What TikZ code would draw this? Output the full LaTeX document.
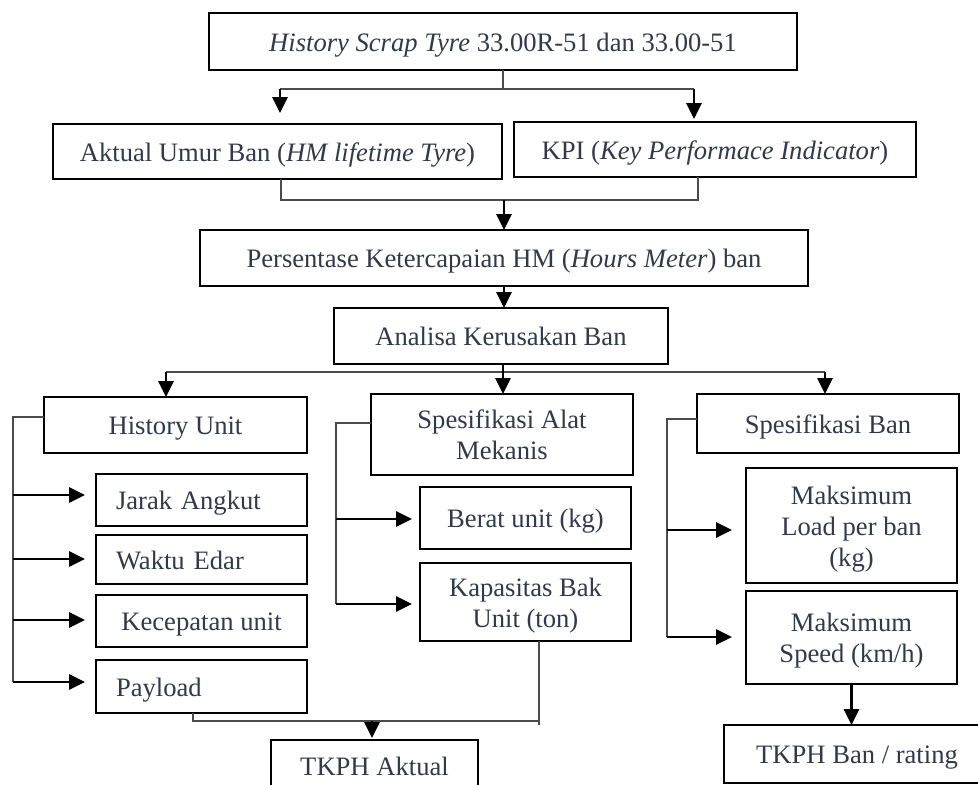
\documentclass[tikz,border=0pt]{standalone}
\usepackage{fontspec}
\setmainfont{Liberation Serif}
\usetikzlibrary{arrows.meta}
\definecolor{txt}{RGB}{48,58,76}
\definecolor{linegray}{RGB}{75,75,75}
\newcommand\diagfont{\fontsize{26.6}{31}\selectfont}
\tikzset{
  box/.style={draw=black, line width=2.5pt, inner sep=0pt, outer sep=0pt, text=txt, font=\diagfont, align=center, text height=19.6pt, text depth=0pt},
  twoline/.style={text height=50.6pt},
  threeline/.style={text height=81.6pt},
  lbox/.style={box, minimum width=211pt, inner xsep=20pt, text width=171pt, align=left},
  conn/.style={draw=linegray, line width=1.5pt},
  arr/.style={draw=black, line width=2.8pt, -{Triangle[length=16pt,width=15pt]}},
}
\begin{document}
\begin{tikzpicture}[x=1pt,y=-1pt]
\clip (0,0) rectangle (978,785);
\fill[white] (0,0) rectangle (978,785);

% boxes
\node[box, minimum width=588, minimum height=57] (top) at (503,41.5) {\textit{History Scrap Tyre} 33.00R-51 dan 33.00-51};
\node[box, minimum width=449, minimum height=55] (aktual) at (277.5,151.5) {Aktual Umur Ban (\textit{HM lifetime Tyre})};
\node[box, minimum width=402, minimum height=55] (kpi) at (715,149.5) {KPI (\textit{Key Performace Indicator})};
\node[box, minimum width=608, minimum height=56] (persen) at (504,258) {Persentase Ketercapaian HM (\textit{Hours Meter}) ban};
\node[box, minimum width=334, minimum height=56] (analisa) at (501,336) {Analisa Kerusakan Ban};
\node[box, minimum width=263, minimum height=56] (hist) at (175.5,425) {History Unit};
\node[box, twoline, minimum width=262, minimum height=81] (alat) at (502,434.5) {Spesifikasi Alat\\Mekanis};
\node[box, minimum width=262, minimum height=59] (sban) at (828,423.5) {Spesifikasi Ban};
\node[lbox, minimum height=52] (jarak) at (201.5,500) {Jarak Angkut};
\node[lbox, minimum height=49] (waktu) at (201.5,559.5) {Waktu Edar};
\node[box, minimum width=211, minimum height=52] (kecep) at (201.5,621) {Kecepatan unit};
\node[lbox, minimum height=53] (payload) at (201.5,686.5) {Payload};
\node[box, minimum width=211, minimum height=62] (berat) at (525.5,518) {Berat unit (kg)};
\node[box, twoline, minimum width=211, minimum height=78] (kapas) at (525.5,602) {Kapasitas Bak\\Unit (ton)};
\node[box, threeline, minimum width=211, minimum height=115] (mload) at (851.5,525.5) {Maksimum\\Load per ban\\(kg)};
\node[box, twoline, minimum width=211, minimum height=93] (mspeed) at (851.5,637.5) {Maksimum\\Speed (km/h)};
\node[box, minimum width=207, minimum height=52] (tkpha) at (374.5,766) {TKPH Aktual};
\node[box, minimum width=266, minimum height=58] (tkphb) at (857,754) {TKPH Ban / rating};

% top split
\coordinate (j1) at (503,89);
\coordinate (l1) at (280,89);
\coordinate (r1) at (694,89);
\draw[conn] (top.south) -- (j1);
\draw[conn] (l1) -- (r1);
\draw[arr, shorten >=11pt] (l1) -- (l1 |- aktual.north);
\draw[arr, shorten >=3pt] (r1) -- (r1 |- kpi.north);

% merge
\coordinate (m1) at (281,200);
\coordinate (m2) at (698,200);
\coordinate (m0) at (504,200);
\draw[conn] (aktual.south -| m1) -- (m1) -- (m2) -- (kpi.south -| m2);
\draw[arr] (m0) -- (persen.north -| m0);
\draw[arr] (persen.south -| m0) -- (analisa.north -| m0);

% analisa split
\coordinate (s2) at (503,372);
\coordinate (s2l) at (166,372);
\coordinate (s2r) at (825,372);
\draw[conn] (s2l) -- (s2r);
\draw[arr] (analisa.south -| s2) -- (alat.north -| s2);
\draw[arr] (s2l) -- (hist.north -| s2l);
\draw[arr] (s2r) -- (sban.north -| s2r);

% history unit bracket
\coordinate (h0) at (13,417);
\coordinate (h1) at (13,495);
\coordinate (h2) at (13,559);
\coordinate (h3) at (13,620);
\coordinate (h4) at (13,682);
\draw[conn] (hist.west |- h0) -- (h0) -- (h4);
\draw[arr, shorten >=11pt] (h1) -- (jarak.west |- h1);
\draw[arr, shorten >=11pt] (h2) -- (waktu.west |- h2);
\draw[arr, shorten >=11pt] (h3) -- (kecep.west |- h3);
\draw[arr, shorten >=11pt] (h4) -- (payload.west |- h4);

% alat bracket
\coordinate (a0) at (336,423);
\coordinate (a1) at (336,519);
\coordinate (a2) at (336,604);
\draw[conn] (alat.west |- a0) -- (a0) -- (a2);
\draw[arr, shorten >=8pt] (a1) -- (berat.west |- a1);
\draw[arr, shorten >=8pt] (a2) -- (kapas.west |- a2);

% ban bracket
\coordinate (b0) at (667,419);
\coordinate (b1) at (667,530);
\coordinate (b2) at (667,637);
\draw[conn] (sban.west |- b0) -- (b0) -- (b2);
\draw[arr, shorten >=14pt] (b1) -- (mload.west |- b1);
\draw[arr, shorten >=14pt] (b2) -- (mspeed.west |- b2);

% bottom merge to TKPH Aktual
\coordinate (p1) at (193,721);
\coordinate (p2) at (539,721);
\coordinate (p3) at (539,725);
\coordinate (pa) at (372,721);
\draw[conn] (payload.south -| p1) -- (p1) -- (p2);
\draw[conn] (kapas.south -| p2) -- (p3);
\draw[arr, shorten >=2pt] (pa) -- (tkpha.north -| pa);

% speed to TKPH Ban
\draw[arr] (mspeed.south) -- (mspeed.south |- tkphb.north);
\end{tikzpicture}
\end{document}
